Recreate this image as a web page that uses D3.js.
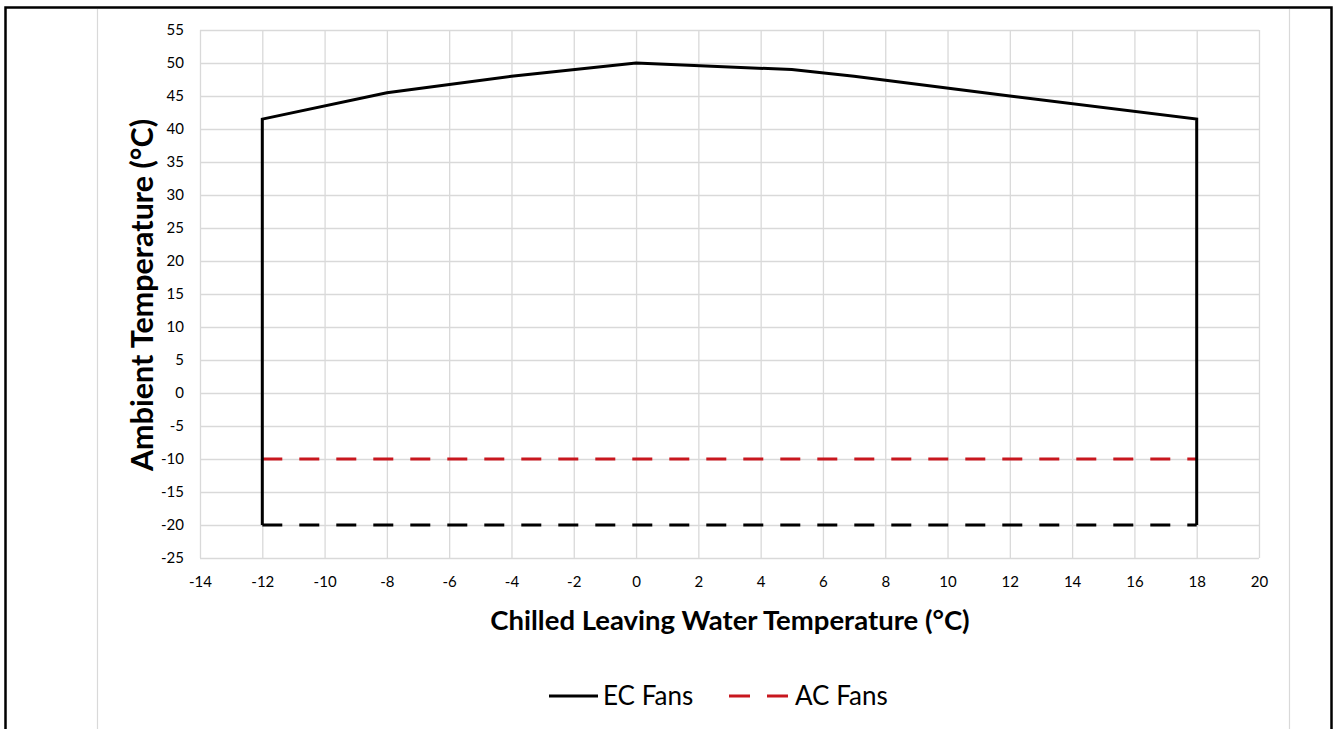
<!DOCTYPE html>
<html>
<head>
<meta charset="utf-8">
<script src="https://cdn.jsdelivr.net/npm/d3@7"></script>
<style>
  body { margin: 0; background: #fff; }
  svg text { font-family: Lato, "Open Sans", sans-serif; fill: #000; }
</style>
</head>
<body>
<div id="svgcontainer"></div>
<script>
var W = 1337, H = 729;

// EC Fans envelope
var ecX = [-12, -12, -8, -4, 0, 5, 7, 12, 18, 18];
var ecY = [-20, 41.5, 45.5, 48, 50, 49, 48, 45, 41.5, -20];
// lower limit, dashed black
var ecBaseX = [-12, 18];
var ecBaseY = [-20, -20];
// AC Fans lower limit
var acX = [-12, 18];
var acY = [-10, -10];

var xTicks = d3.range(-14, 21, 2);
var yTicks = d3.range(-25, 56, 5);

function zip(xs, ys) {
    return xs.map(function (x, i) { return { x: x, y: ys[i] }; });
}

var margin = { left: 200, top: 30, right: W - 1259, bottom: H - 558 };
var pw = W - margin.left - margin.right, ph = H - margin.top - margin.bottom;

var x = d3.scaleLinear().domain([-14, 20]).range([0, pw]);
var y = d3.scaleLinear().domain([-25, 55]).range([ph, 0]);

var svg = d3.select("#svgcontainer").append("svg")
    .attr("width", W).attr("height", H);

// frame of the figure
svg.append("rect").attr("x", 5.5).attr("y", 7.5).attr("width", 1326).attr("height", 730)
    .attr("fill", "none").attr("stroke", "#000").attr("stroke-width", 2.5);
[97, 1289].forEach(function (px) {
    svg.append("line").attr("x1", px + 0.5).attr("x2", px + 0.5).attr("y1", 9).attr("y2", H)
        .attr("stroke", "#d9d9d9").attr("stroke-width", 1.2);
});

var g = svg.append("g").attr("transform", "translate(" + margin.left + "," + margin.top + ")");

// grid
g.append("g").call(d3.axisBottom(x).tickValues(xTicks).tickSize(-ph).tickFormat(""))
    .attr("transform", "translate(0," + ph + ")")
    .call(function (s) { s.select(".domain").remove(); s.selectAll("line").attr("stroke", "#d9d9d9").attr("stroke-width", 1.3); });
g.append("g").call(d3.axisLeft(y).tickValues(yTicks).tickSize(-pw).tickFormat(""))
    .call(function (s) { s.select(".domain").remove(); s.selectAll("line").attr("stroke", "#d9d9d9").attr("stroke-width", 1.3); });

// tick labels (plain hyphen minus like the original)
var fmt = function (d) { return String(d); };
var xa = g.append("g").attr("transform", "translate(0," + ph + ")")
    .call(d3.axisBottom(x).tickValues(xTicks).tickSize(0).tickPadding(18).tickFormat(fmt));
xa.select(".domain").remove();
xa.selectAll("text").style("font-size", "15px");

var ya = g.append("g")
    .call(d3.axisLeft(y).tickValues(yTicks).tickSize(0).tickPadding(16).tickFormat(fmt));
ya.select(".domain").remove();
ya.selectAll("text").style("font-size", "15px");

var line = d3.line().x(function (d) { return x(d.x); }).y(function (d) { return y(d.y); });

g.append("path").attr("d", line(zip(ecBaseX, ecBaseY)))
    .attr("fill", "none").attr("stroke", "#000").attr("stroke-width", 3)
    .attr("stroke-dasharray", "20,17");
g.append("path").attr("d", line(zip(acX, acY)))
    .attr("fill", "none").attr("stroke", "#c8171e").attr("stroke-width", 3)
    .attr("stroke-dasharray", "20,17");
g.append("path").attr("d", line(zip(ecX, ecY)))
    .attr("fill", "none").attr("stroke", "#000").attr("stroke-width", 3)
    .attr("stroke-linejoin", "miter");

// axis titles
svg.append("text").attr("x", 730).attr("y", 630).attr("text-anchor", "middle")
    .style("font-size", "27.5px").style("font-weight", "bold")
    .text("Chilled Leaving Water Temperature (°C)");
svg.append("text").attr("transform", "translate(153,295) rotate(-90)").attr("text-anchor", "middle")
    .style("font-size", "30.5px").style("font-weight", "bold")
    .text("Ambient Temperature (°C)");

// legend
var leg = svg.append("g").attr("transform", "translate(0,696)");
leg.append("line").attr("x1", 549).attr("x2", 598).attr("y1", 0).attr("y2", 0)
    .attr("stroke", "#000").attr("stroke-width", 3);
leg.append("text").attr("x", 603).attr("y", 9).style("font-size", "26px").text("EC Fans");
leg.append("line").attr("x1", 729).attr("x2", 788).attr("y1", 0).attr("y2", 0)
    .attr("stroke", "#c8171e").attr("stroke-width", 3).attr("stroke-dasharray", "21,17");
leg.append("text").attr("x", 795).attr("y", 9).style("font-size", "26px").text("AC Fans");
</script>
</body>
</html>
